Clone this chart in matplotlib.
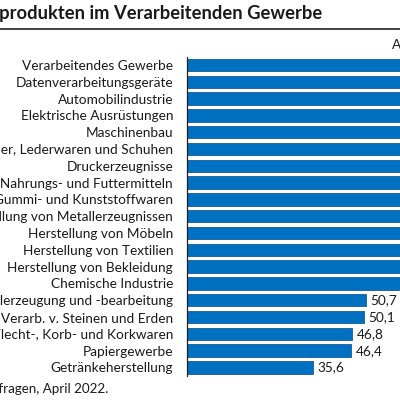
import matplotlib
matplotlib.use("Agg")
import matplotlib.pyplot as plt

# Daten (Anteil der Unternehmen in %), obere Werte sind im Ausschnitt abgeschnitten
branchen = [
    "Verarbeitendes Gewerbe",
    "Datenverarbeitungsgeräte",
    "Automobilindustrie",
    "Elektrische Ausrüstungen",
    "Maschinenbau",
    "Herstellung von Leder, Lederwaren und Schuhen",
    "Druckerzeugnisse",
    "Herstellung von Nahrungs- und Futtermitteln",
    "Herstellung von Gummi- und Kunststoffwaren",
    "Herstellung von Metallerzeugnissen",
    "Herstellung von Möbeln",
    "Herstellung von Textilien",
    "Herstellung von Bekleidung",
    "Chemische Industrie",
    "Metallerzeugung und -bearbeitung",
    "Glas, Keramik, Verarb. v. Steinen und Erden",
    "Herstellung von Holz-, Flecht-, Korb- und Korkwaren",
    "Papiergewerbe",
    "Getränkeherstellung",
]
anteile = [80.2, 97.5, 93.0, 92.6, 90.7, 85.3, 82.1, 80.6, 79.9, 77.4,
           76.8, 73.5, 70.2, 64.3, 50.7, 50.1, 46.8, 46.4, 35.6]

titel = "Knappheit an Vorprodukten im Verarbeitenden Gewerbe"
quelle = "Quelle: ifo Konjunkturumfragen, April 2022."
einheit = "Anteil in %"

plt.rcParams['font.family'] = ['Lato', 'DejaVu Sans']

blau = '#0070C0'
W = H = 400

fig = plt.figure(figsize=(4, 4), dpi=100)

# Achse ragt rechts über den Bildrand hinaus (Ausschnitt)
ax = fig.add_axes([187 / W, 1 - 375.9 / H, 353 / W, 319.3 / H])
pos = list(range(len(branchen)))
ax.barh(pos, anteile, height=0.74, color=blau, edgecolor='#1b5a96', linewidth=0.6)
ax.set_xlim(0, 100)
ax.set_ylim(len(branchen) - 0.5, -0.5)
ax.set_yticks(pos)
ax.set_yticklabels(branchen, fontsize=9.8, color='#1a1a1a')
ax.tick_params(axis='y', length=0, pad=10)
ax.set_xticks([])
for s in ['top', 'right', 'bottom']:
    ax.spines[s].set_visible(False)
ax.spines['left'].set_color('#222222')
ax.spines['left'].set_linewidth(0.9)

for p, v in zip(pos, anteile):
    ax.text(v + 1.3, p, f"{v:.1f}".replace('.', ','), va='center', ha='left',
            fontsize=9.8, color='#1a1a1a')

# Titel, Linie, Einheit, Quelle
fig.text(322 / W, 1 - 14 / H, titel, ha='right', va='center', fontsize=13.2,
         fontweight='bold', color='#1a1a1a')
fig.add_artist(plt.Line2D([0, 1], [1 - 28.5 / H] * 2, color='#333333', linewidth=1.3))
fig.text(392 / W, 1 - 45 / H, einheit, ha='left', va='center', fontsize=9.8,
         color='#1a1a1a')
fig.text(108 / W, 1 - 389 / H, quelle, ha='right', va='center', fontsize=9.6,
         color='#1a1a1a')

fig.savefig("out.png", dpi=100)
